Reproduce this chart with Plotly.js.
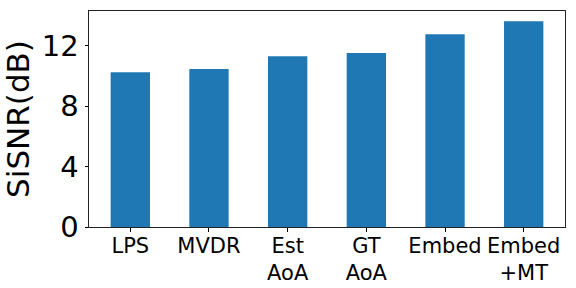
<!DOCTYPE html>
<html>
<head>
<meta charset="utf-8">
<script src="https://cdn.plot.ly/plotly-3.0.1.min.js"></script>
<style>html,body{margin:0;padding:0;background:#fff;}#chart{width:576px;height:288px;}</style>
</head>
<body>
<div id="chart"></div>
<script>
const categories = ["LPS", "MVDR", "Est<br>AoA", "GT<br>AoA", "Embed", "Embed<br>+MT"];
const sisnr = [10.26, 10.46, 11.32, 11.52, 12.77, 13.63];
const yTicks = [0, 4, 8, 12];

const xIdx = categories.map((_, i) => i);
const font = "DejaVu Sans, sans-serif";

Plotly.newPlot("chart", [{
  type: "bar",
  x: xIdx,
  y: sisnr,
  width: 0.5,
  marker: {color: "#1f77b4", line: {width: 0}},
  hoverinfo: "skip"
}], {
  width: 576, height: 288,
  margin: {l: 89, r: 10.5, t: 11.3, b: 60.7},
  paper_bgcolor: "#fff", plot_bgcolor: "#fff",
  showlegend: false,
  xaxis: {
    range: [-0.525, 5.525],
    tickmode: "array", tickvals: xIdx, ticktext: categories,
    ticks: "outside", ticklen: 3.5, tickwidth: 1, tickcolor: "#000",
    ticklabelstandoff: -4,
    showline: true, linecolor: "#222", linewidth: 1, mirror: true,
    showgrid: false, zeroline: false,
    tickfont: {family: font, size: 21, color: "#000"}
  },
  yaxis: {
    range: [0, 14.31],
    automargin: true,
    tickmode: "array", tickvals: yTicks, ticktext: yTicks.map(String),
    ticks: "outside", ticklen: 3.5, tickwidth: 1, tickcolor: "#000",
    showline: true, linecolor: "#222", linewidth: 1, mirror: true,
    showgrid: false, zeroline: false,
    tickfont: {family: font, size: 29, color: "#000"},
    title: {text: "SiSNR(dB)", font: {family: font, size: 31, color: "#000"}, standoff: 5}
  }
}, {staticPlot: true, displayModeBar: false});
</script>
</body>
</html>
